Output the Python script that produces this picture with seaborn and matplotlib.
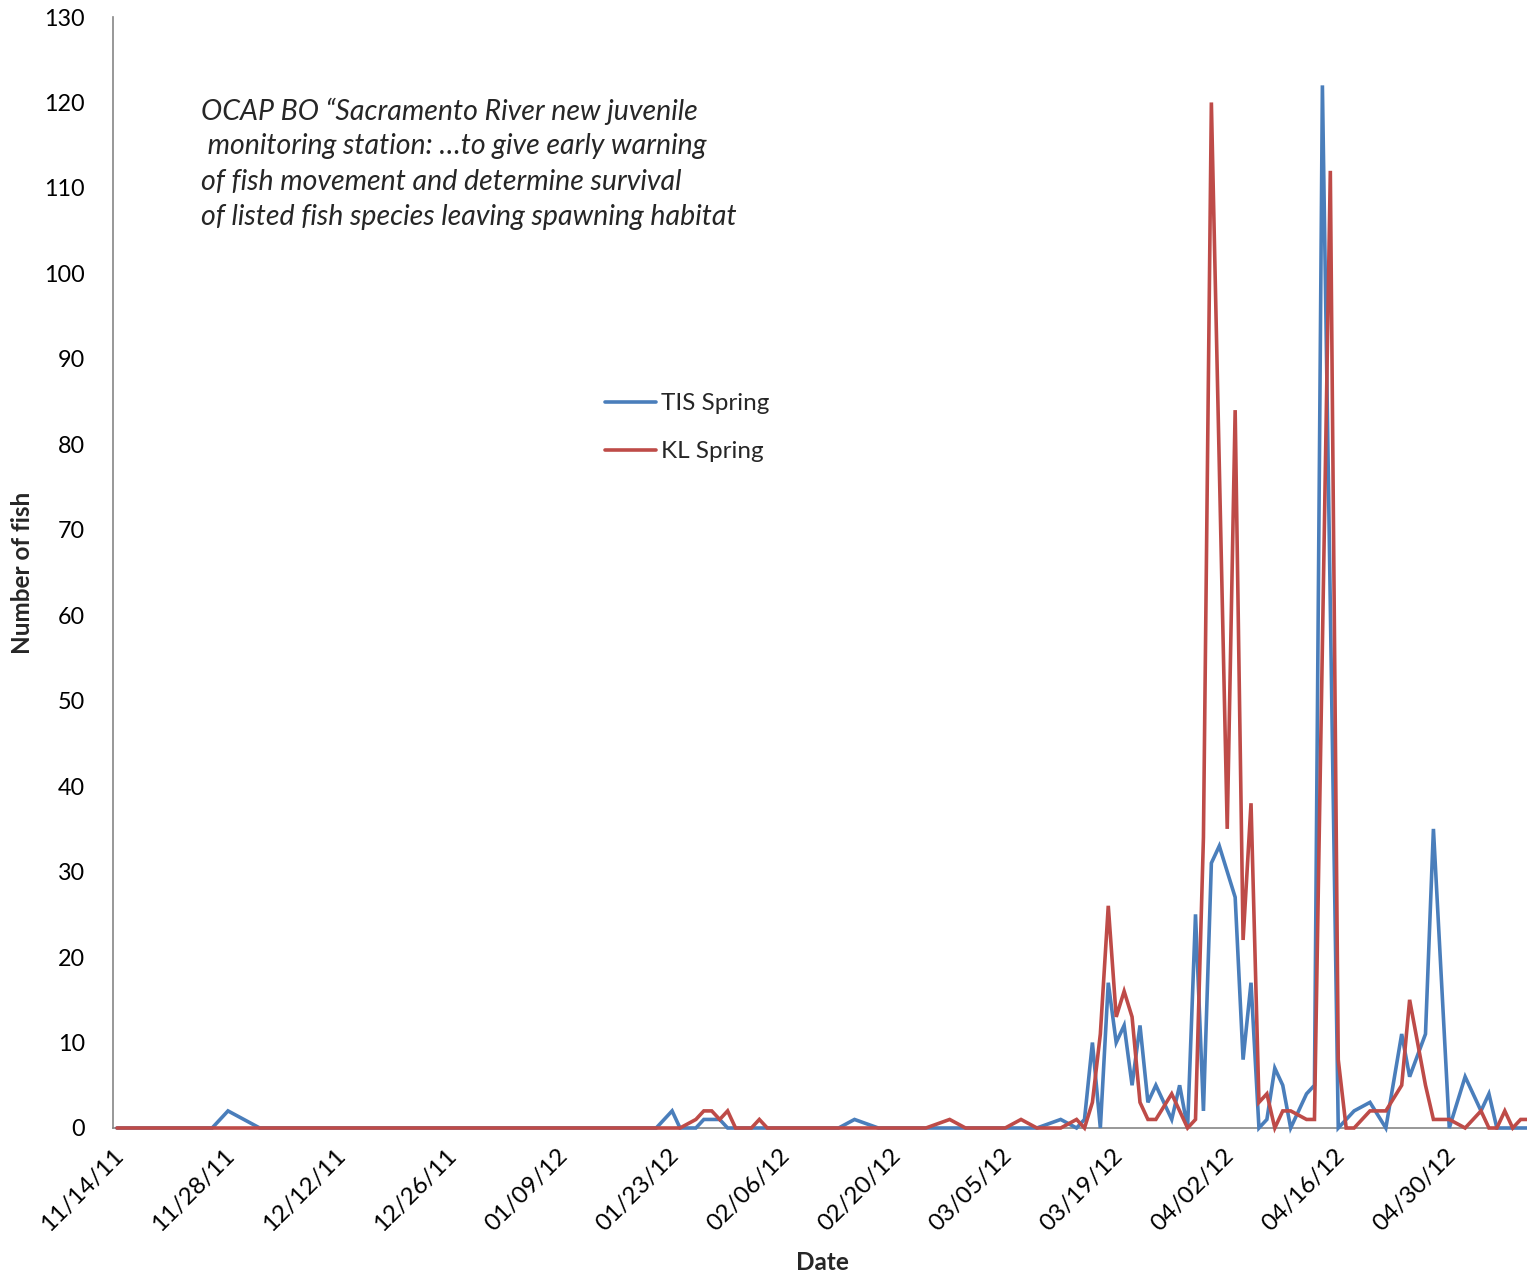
import matplotlib
matplotlib.use("Agg")
import matplotlib.pyplot as plt
import matplotlib.dates as mdates
import pandas as pd
import seaborn as sns

# ---------------- data ----------------
tis_dates = [
    "2011-11-14", "2011-11-26", "2011-11-28", "2011-12-02",
    "2012-01-21", "2012-01-23", "2012-01-24", "2012-01-26", "2012-01-27", "2012-01-29", "2012-01-30",
    "2012-02-13", "2012-02-15", "2012-02-18",
    "2012-03-09", "2012-03-12", "2012-03-14", "2012-03-15", "2012-03-16", "2012-03-17", "2012-03-18",
    "2012-03-19", "2012-03-20", "2012-03-21", "2012-03-22", "2012-03-23", "2012-03-24", "2012-03-26",
    "2012-03-27", "2012-03-28", "2012-03-29", "2012-03-30", "2012-03-31", "2012-04-01", "2012-04-03",
    "2012-04-04", "2012-04-05", "2012-04-06", "2012-04-07", "2012-04-08", "2012-04-09", "2012-04-10",
    "2012-04-12", "2012-04-13", "2012-04-14", "2012-04-16", "2012-04-18", "2012-04-20", "2012-04-22",
    "2012-04-24", "2012-04-25", "2012-04-27", "2012-04-28", "2012-04-30", "2012-05-02", "2012-05-04",
    "2012-05-05", "2012-05-06", "2012-05-10",
]
tis_values = [
    0, 0, 2, 0,
    0, 2, 0, 0, 1, 1, 0,
    0, 1, 0,
    0, 1, 0, 1, 10, 0, 17,
    10, 12, 5, 12, 3, 5, 1,
    5, 0, 25, 2, 31, 33, 27,
    8, 17, 0, 1, 7, 5, 0,
    4, 5, 122, 0, 2, 3, 0,
    11, 6, 11, 35, 0, 6, 2,
    4, 0, 0,
]

kl_dates = [
    "2011-11-14", "2012-01-24", "2012-01-26", "2012-01-27", "2012-01-28", "2012-01-29", "2012-01-30",
    "2012-01-31", "2012-02-02", "2012-02-03", "2012-02-04",
    "2012-02-24", "2012-02-27", "2012-02-29",
    "2012-03-05", "2012-03-07", "2012-03-09", "2012-03-12", "2012-03-14", "2012-03-15", "2012-03-16",
    "2012-03-17", "2012-03-18", "2012-03-19", "2012-03-20", "2012-03-21", "2012-03-22", "2012-03-23",
    "2012-03-24", "2012-03-26", "2012-03-28", "2012-03-29", "2012-03-30", "2012-03-31", "2012-04-02",
    "2012-04-03", "2012-04-04", "2012-04-05", "2012-04-06", "2012-04-07", "2012-04-08", "2012-04-09",
    "2012-04-10", "2012-04-12", "2012-04-13", "2012-04-15", "2012-04-16", "2012-04-17", "2012-04-18",
    "2012-04-20", "2012-04-22", "2012-04-24", "2012-04-25", "2012-04-27", "2012-04-28", "2012-04-30",
    "2012-05-02", "2012-05-04", "2012-05-05", "2012-05-06", "2012-05-07", "2012-05-08", "2012-05-09",
    "2012-05-10",
]
kl_values = [
    0, 0, 1, 2, 2, 1, 2,
    0, 0, 1, 0,
    0, 1, 0,
    0, 1, 0, 0, 1, 0, 3,
    11, 26, 13, 16, 13, 3, 1,
    1, 4, 0, 1, 34, 120, 35,
    84, 22, 38, 3, 4, 0, 2,
    2, 1, 1, 112, 8, 0, 0,
    2, 2, 5, 15, 5, 1, 1,
    0, 2, 0, 0, 2, 0, 1,
    1,
]

series_names = ["TIS Spring", "KL Spring"]
series_colors = ["#4A7EBB", "#BE4B48"]

tick_dates = ["2011-11-14", "2011-11-28", "2011-12-12", "2011-12-26", "2012-01-09", "2012-01-23",
              "2012-02-06", "2012-02-20", "2012-03-05", "2012-03-19", "2012-04-02", "2012-04-16",
              "2012-04-30"]
tick_labels = ["11/14/11", "11/28/11", "12/12/11", "12/26/11", "01/09/12", "01/23/12",
               "02/06/12", "02/20/12", "03/05/12", "03/19/12", "04/02/12", "04/16/12",
               "04/30/12"]
y_ticks = list(range(0, 131, 10))

note_lines = [
    "OCAP BO \u201cSacramento River new juvenile",
    " monitoring station: \u2026to give early warning",
    "of fish movement and determine survival",
    "of listed fish species leaving spawning habitat",
]

# ---------------- figure ----------------
sns.set_theme(style="white")
plt.rcParams["font.family"] = ["Lato", "DejaVu Sans"]

W, H = 1527, 1283
fig = plt.figure(figsize=(W / 100, H / 100), dpi=100)
ax = fig.add_axes([113 / W, (H - 1128) / H, (W - 113) / W, (1128 - 17) / H])

df = pd.concat([
    pd.DataFrame({"date": pd.to_datetime(tis_dates), "count": tis_values, "series": series_names[0]}),
    pd.DataFrame({"date": pd.to_datetime(kl_dates), "count": kl_values, "series": series_names[1]}),
], ignore_index=True)
# Excel date axis draws each day's point in the middle of the day slot
df["date"] = df["date"] + pd.Timedelta(hours=12)

sns.lineplot(data=df, x="date", y="count", hue="series", hue_order=series_names,
             palette=dict(zip(series_names, series_colors)), estimator=None,
             linewidth=2.6, ax=ax, legend=True)

for ln in ax.lines:
    ln.set_clip_on(False)
    ln.set_zorder(3)
    ln.set_solid_joinstyle("miter")

x0 = pd.Timestamp("2011-11-14")
ax.set_xlim(mdates.date2num(x0), mdates.date2num(x0) + 178.3)
ax.set_ylim(0, 130)
ax.set_yticks(y_ticks)
ax.set_xticks(mdates.date2num(pd.to_datetime(tick_dates)))
ax.set_xticklabels(tick_labels, rotation=45, ha="right", rotation_mode="anchor")

for s in ["top", "right"]:
    ax.spines[s].set_visible(False)
for s in ["left", "bottom"]:
    ax.spines[s].set_color("#868686")
    ax.spines[s].set_linewidth(1.2)

ax.tick_params(axis="both", which="major", direction="out", length=6, width=1.2,
               color="#868686", labelcolor="black")
ax.tick_params(axis="y", labelsize=16.8, pad=14)
ax.tick_params(axis="x", labelsize=17.5, pad=6)

ax.set_ylabel("Number of fish", fontsize=17.5, fontweight="bold")
ax.yaxis.label.set_va("center")
ax.yaxis.set_label_coords((23 - 113) / (W - 113), (1128 - 573) / (1128 - 17))
ax.set_xlabel("Date", fontsize=17.5, fontweight="bold")
ax.xaxis.label.set_va("center")
ax.xaxis.set_label_coords((822 - 113) / (W - 113), (1128 - 1263) / (1128 - 17))

for i, line in enumerate(note_lines):
    fig.text(201 / W, 1 - (111 + i * 35.4) / H, line, fontsize=20.5, style="italic",
             ha="left", va="center")

leg = ax.legend(loc="upper left", bbox_to_anchor=(605 / W, 1 - 393 / H),
                bbox_transform=fig.transFigure, frameon=False, fontsize=17.5,
                handlelength=2.1, handletextpad=0.2, labelspacing=1.12,
                borderpad=0, borderaxespad=0, title=None)
for h in leg.get_lines():
    h.set_linewidth(2.6)

fig.savefig("out.png", dpi=100)
